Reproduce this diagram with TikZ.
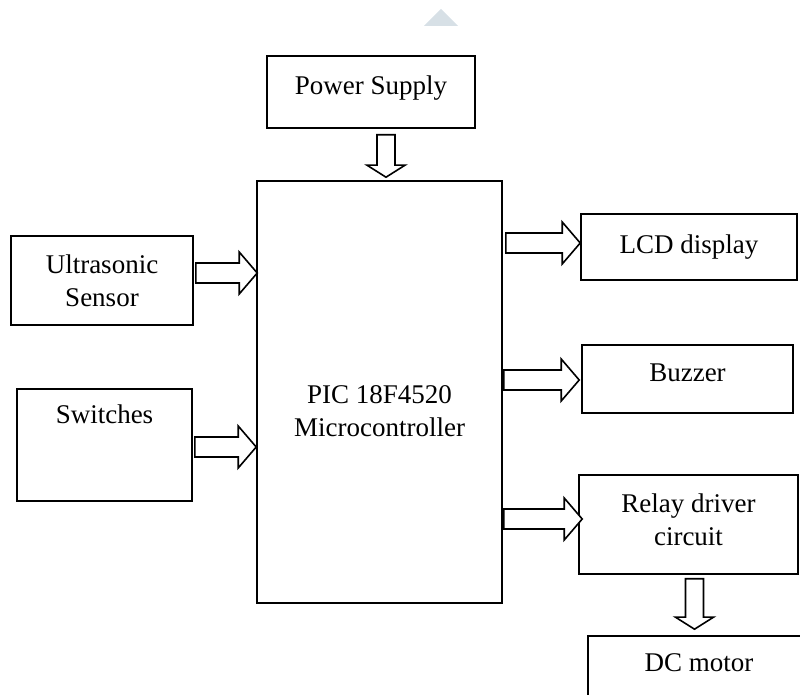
\documentclass[tikz,border=0pt]{standalone}
\usepackage{fontspec}
\setmainfont{Liberation Serif}
\usepackage{xcolor}
\usetikzlibrary{calc}

\definecolor{haze}{RGB}{215,224,230}

\tikzset{
  blk/.style={draw, line width=0.8pt, inner sep=2pt, align=center,
    font=\fontsize{13.5}{16.5}\selectfont},
  hollow/.style={draw, line width=0.8pt, line join=miter, fill=white},
}

% block arrow to the right: from #1 to the x of #2
\newcommand{\harrow}[2]{%
  \draw[hollow] let \p1=(#1), \p2=(#2) in
    (\x1,\y1+5pt) -- (\x2-9pt,\y1+5pt) -- (\x2-9pt,\y1+10.5pt) -- (\x2,\y1)
    -- (\x2-9pt,\y1-10.5pt) -- (\x2-9pt,\y1-5pt) -- (\x1,\y1-5pt) -- cycle;}
% block arrow downwards: from #1 to the y of #2
\newcommand{\varrow}[2]{%
  \draw[hollow] let \p1=(#1), \p2=(#2) in
    (\x1-4.5pt,\y1) -- (\x1-4.5pt,\y2+6pt) -- (\x1-9.5pt,\y2+6pt) -- (\x1,\y2)
    -- (\x1+9.5pt,\y2+6pt) -- (\x1+4.5pt,\y2+6pt) -- (\x1+4.5pt,\y1) -- cycle;}

\begin{document}
\begin{tikzpicture}[x=0.5pt, y=-0.5pt]
  \useasboundingbox (0,0) rectangle (800,695);
  \clip (0,0) rectangle (800,695);

  % faint mark at the top
  \fill[haze] (424,26) -- (441,9) -- (458,26) -- cycle;

  % Blocks
  \node[blk, minimum width=104pt, minimum height=36pt, text depth=7pt] (ps) at (371,92) {Power Supply};
  \node[blk, minimum width=122.5pt, minimum height=211pt, text height=44.2pt] (mc) at (379.5,392) {PIC 18F4520\\Microcontroller};
  \node[blk, minimum width=91pt, minimum height=44.5pt] (us) at (102,280.5) {Ultrasonic\\Sensor};
  \node[blk, minimum width=87.5pt, minimum height=56pt, text depth=31pt] (sw) at (104.5,445) {Switches};
  \node[blk, minimum width=108pt, minimum height=33pt] (lcd) at (689,247) {LCD display};
  \node[blk, minimum width=105.5pt, minimum height=34pt, text depth=6pt] (bz) at (687.5,379) {Buzzer};
  \node[blk, minimum width=109.5pt, minimum height=49.5pt, text depth=4.5pt] (rl) at (688.5,524.5) {Relay driver\\circuit};
  \node[blk, minimum width=111pt, minimum height=42pt, text depth=15pt] (dc) at (699,678) {DC motor};

  % Inputs
  \varrow{$(ps.south)+(15,6)$}{$(mc.north)+(15,-3)$}
  \harrow{$(us.east)+(2,-7.5)$}{$(mc.west)+(1,0)$}
  \harrow{$(sw.east)+(2,2)$}{mc.west}

  % Outputs
  \harrow{$(mc.east |- lcd.west)+(3,-4)$}{lcd.west}
  \harrow{$(mc.east |- bz.west)+(1,1)$}{$(bz.west)+(-2,0)$}
  \harrow{$(mc.east |- rl.west)+(1,-5.5)$}{$(rl.west)+(4,0)$}
  \varrow{$(rl.south)+(6,4)$}{$(dc.north)+(0,-6)$}
\end{tikzpicture}
\end{document}
